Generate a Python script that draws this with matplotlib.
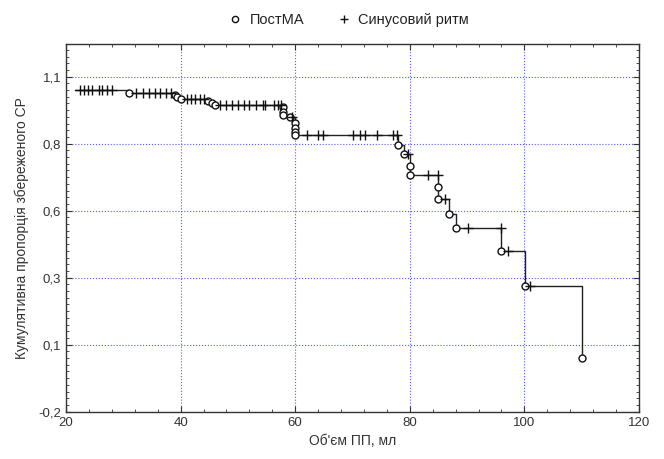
import numpy as np
import matplotlib.pyplot as plt
from matplotlib.ticker import MultipleLocator


plt.rcParams['font.family'] = ['Liberation Sans', 'DejaVu Sans']

# start of the curve
t_start = 21.6
s_start = 1.0

# complete observations (circles): time and survival after the event
event_x = [31.0, 39.0, 39.4, 40.0, 44.8, 45.4, 46.0, 57.9, 57.9, 57.9, 59.1,
           60.0, 60.0, 60.0, 60.0, 78.0, 79.0, 80.0, 80.0, 85.0, 85.0, 86.9,
           88.1, 96.0, 100.1, 110.0]
event_y = [0.988, 0.981, 0.974, 0.966, 0.959, 0.951, 0.944, 0.938, 0.919, 0.907,
           0.901, 0.878, 0.860, 0.845, 0.832, 0.795, 0.760, 0.718, 0.683, 0.637,
           0.594, 0.537, 0.484, 0.401, 0.269, 0.0]

# censored observations (crosses)
censor_x = [22.4, 23.1, 23.9, 24.6, 25.8, 26.3, 27.1, 28.0,
            32.3, 33.5, 34.5, 35.5, 36.4, 37.4, 38.3,
            41.1, 41.8, 42.6, 43.3, 44.0,
            46.9, 47.9, 49.0, 50.1, 51.0, 51.9, 53.2, 54.4, 54.8, 56.3, 57.0, 57.6,
            59.5,
            62.0, 64.0, 64.9, 70.1, 71.3, 72.2, 74.2, 77.1, 77.7,
            79.6, 83.2, 84.9, 86.1, 90.2, 95.9, 97.2, 101.0]

x_ticks = [20, 40, 60, 80, 100, 120]
y_ticks = [-0.2, 0.05, 0.3, 0.55, 0.8, 1.05]
y_labels = ['-0,2', '0,1', '0,3', '0,6', '0,8', '1,1']

legend_labels = ['ПостМА', 'Синусовий ритм']
x_title = "Об'єм ПП, мл"
y_title = 'Кумулятивна пропорція збереженого СР'


def main():
	fig = plt.figure(figsize=(6.64, 4.59), dpi=100)
	ax = fig.add_axes([66/664, 47.3/459, 573/664, 367.7/459])

	t = np.array([t_start] + event_x)
	s = np.array([s_start] + event_y)
	ax.step(t, s, where='post', color='#222222', lw=1.0, zorder=3)

	# survival level at each censored time
	idx = np.searchsorted(t, censor_x, side='right') - 1
	cy = s[idx]

	ax.plot(event_x, event_y, 'o', ms=5, mfc='white', mec='#111111', mew=1.0,
			zorder=4, label=legend_labels[0])
	ax.plot(censor_x, cy, '+', ms=7, mec='#111111', mew=1.0,
			zorder=4, label=legend_labels[1])

	ax.set_xlim(20, 120)
	ax.set_ylim(-0.2, 1.172)
	ax.set_xticks(x_ticks)
	ax.set_yticks(y_ticks)
	ax.set_yticklabels(y_labels)
	ax.xaxis.set_minor_locator(MultipleLocator(4))
	ax.yaxis.set_minor_locator(MultipleLocator(0.025))
	ax.tick_params(which='both', direction='in', top=True, right=True,
				   labelsize=9.5, colors='#333333')
	ax.tick_params(which='major', length=4)
	ax.tick_params(which='minor', length=2)

	ax.grid(True, which='major', color='#5a5aff', linestyle=':', lw=0.8)
	for sp in ax.spines.values():
		sp.set_color('#333333')
		sp.set_linewidth(1.0)

	ax.set_xlabel(x_title, fontsize=10, color='#333333', labelpad=4)
	ax.set_ylabel(y_title, fontsize=10, color='#333333', labelpad=7)

	leg = fig.legend(loc='upper center', bbox_to_anchor=(0.525, 1.0), ncol=2,
			   frameon=False, fontsize=10.5, handletextpad=0.5, columnspacing=2.2,
			   handlelength=1.0, markerscale=0.9)
	for txt in leg.get_texts():
		txt.set_color('#222222')

	fig.savefig('out.png', dpi=100)


main()
